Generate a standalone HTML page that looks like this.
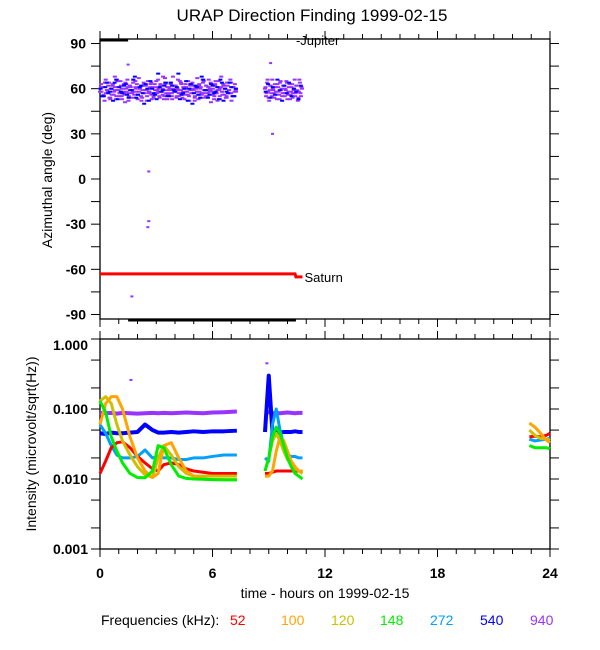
<!DOCTYPE html>
<html><head><meta charset="utf-8"><style>
html,body{margin:0;padding:0;background:#fff;}
svg{display:block;font-family:"Liberation Sans",Arial,sans-serif;}
</style></head><body>
<svg id="chart" width="600" height="650" viewBox="0 0 600 650" xmlns="http://www.w3.org/2000/svg">
<text x="312" y="21" font-size="17" text-anchor="middle">URAP Direction Finding  1999-02-15</text>
<g id="upper"></g>
<g id="lower"></g>
<text transform="translate(52,180) rotate(-90)" font-size="14" text-anchor="middle">Azimuthal angle (deg)</text>
<text transform="translate(36,444) rotate(-90)" font-size="14" text-anchor="middle">Intensity (microvolt/sqrt(Hz))</text>
<text x="325" y="598" font-size="14" text-anchor="middle">time - hours on 1999-02-15</text>
<g font-size="14">
<text x="101" y="625">Frequencies (kHz):</text>
<text x="230" y="625" fill="#ff0000">52</text>
<text x="281" y="625" fill="#ffa500">100</text>
<text x="331" y="625" fill="#ccc000">120</text>
<text x="380" y="625" fill="#00ee00">148</text>
<text x="430" y="625" fill="#00a0ff">272</text>
<text x="480" y="625" fill="#0000ff">540</text>
<text x="530" y="625" fill="#9933ff">940</text>
</g>
</svg>
<script>
// ---------- data ----------
const xTicks=[0,6,12,18,24];
const angleTicks=[90,60,30,0,-30,-60,-90];
const intensityTicks=[1,0.1,0.01,0.001];
const intensityTickLabels=["1.000","0.100","0.010","0.001"];
const freqs=["52","100","120","148","272","540","940"];
const colors=["#ff0000","#ffa500","#ccc000","#00ee00","#00a0ff","#0000ff","#9933ff"];
const purpleSeg1=[58,63,55,61,52,66,59,57,64,54,60,62,56,68,53,59,61,57,65,55,58,63,51,60,66,57,62,54,59,64,56,61,58,53,67,60,55,62,57,63,59,52,65,58,61,56,60,54,63,57,59,66,55,62,58,60,53,64,57,61,56,59,63,55,68,58,62,54,60,57,65,59,56,61,53,63,58,60,55,62,57,64,59,52,61,58,56,63,60,54,66,57,59,62,55,61,58,64,56,60,53,62,57,59,65,55,61,58,63,56,60,54,62,59,57,64,55,61,58,60];
const purpleSeg1b=[61,56,64,58,53,62,59,66,55,60,57,63,52,61,58,65,56,60,54,62,59,57,64,55,61,58,63,56,67,53,60,57,62,59,55,64,58,61,56,63,60,54,58,62,57,65,55,61,59,56,63,52,60,58,62,55,64,57,61,59];
const blueSeg1=[60,55,64,58,52,66,61,57,63,54,59,68,56,62,50,60,65,57,53,61,59,64,55,62,58,70,56,60,52,63,57,61,54,66,59,56,62,58,53,64,60,57,61,55];
const purpleSeg2=[60,55,64,58,52,62,57,66,59,54,61,56,63,58,53,65,60,57,62,55,59,64,56,61,53,58,63,57,60,55,62,59,54,66,57,61];
const blueSeg2=[58,63,54,61,56,66,59,52,62,57,64,55,60,58,53,62];
const outlierT=[2.6,2.6,2.55,1.7,9.2,1.5,9.1];
const outlierA=[5,-28,-32,-78,30,76,77];
const saturnT=[0,10.4,10.45,10.8];
const saturnA=[-63,-63,-65,-65];
const tA=[0,0.3,0.6,0.9,1.2,1.6,2.0,2.4,2.8,3.1,3.4,3.8,4.2,4.6,5.0,5.5,6.0,6.6,7.3];
const tB=[8.8,9.0,9.2,9.4,9.6,9.8,10.0,10.2,10.4,10.6,10.8];
const tC=[22.9,23.2,23.5,23.8,24];
const v52A=[0.012,0.018,0.028,0.033,0.034,0.028,0.021,0.017,0.014,0.013,0.016,0.017,0.016,0.014,0.013,0.0125,0.012,0.012,0.012];
const v52B=[0.012,0.012,0.0125,0.013,0.013,0.013,0.013,0.013,0.013,0.013,0.0125];
const v52C=[0.04,0.041,0.04,0.042,0.045];
const v100A=[0.06,0.12,0.15,0.15,0.1,0.04,0.02,0.013,0.0105,0.012,0.03,0.033,0.02,0.013,0.011,0.01,0.0098,0.0098,0.0098];
const v100B=[0.011,0.011,0.013,0.025,0.04,0.035,0.025,0.018,0.015,0.013,0.013];
const v100C=[0.063,0.055,0.045,0.036,0.033];
const v120A=[0.13,0.15,0.12,0.06,0.035,0.022,0.015,0.0115,0.0105,0.02,0.03,0.022,0.015,0.012,0.011,0.011,0.011,0.011,0.011];
const v120B=[0.013,0.02,0.035,0.045,0.035,0.025,0.019,0.016,0.014,0.013,0.012];
const v120C=[0.05,0.042,0.038,0.037,0.036];
const v148A=[0.13,0.09,0.04,0.025,0.017,0.012,0.0105,0.0104,0.013,0.03,0.028,0.016,0.011,0.0102,0.01,0.0099,0.0098,0.0097,0.0097];
const v148B=[0.013,0.02,0.04,0.055,0.045,0.03,0.02,0.015,0.012,0.011,0.01];
const v148C=[0.03,0.028,0.028,0.028,0.027];
const v272A=[0.06,0.045,0.03,0.022,0.02,0.02,0.021,0.026,0.02,0.021,0.02,0.02,0.019,0.019,0.02,0.02,0.021,0.022,0.022];
const v272B=[0.02,0.018,0.06,0.1,0.05,0.03,0.022,0.021,0.021,0.02,0.02];
const v272C=[0.037,0.035,0.036,0.037,0.038];
const v540A=[0.045,0.044,0.046,0.045,0.045,0.046,0.047,0.06,0.05,0.046,0.046,0.047,0.046,0.047,0.048,0.047,0.048,0.048,0.049];
const v540B=[0.047,0.3,0.045,0.047,0.046,0.047,0.047,0.047,0.048,0.047,0.047];
const v940A=[0.088,0.087,0.088,0.086,0.088,0.087,0.086,0.087,0.088,0.087,0.088,0.087,0.088,0.089,0.088,0.087,0.089,0.09,0.092];
const v940B=[0.088,0.09,0.087,0.088,0.087,0.088,0.089,0.088,0.087,0.088,0.088];
const spikeT=[1.65,8.9];
const spikeV=[0.26,0.45];

// ---------- scales ----------
const X0=100,X1=550;
const U0=39,U1=319;
const L0=339,L1=549;
function xs(t){return X0+(t/24)*(X1-X0);}
function ya(a){return U0+(93-a)/186*(U1-U0);}
function yl(v){return L1-(Math.log10(v)+3)/3*(L1-L0);}
const NS="http://www.w3.org/2000/svg";
function mk(tag,attrs,parent){const e=document.createElementNS(NS,tag);for(const k in attrs)e.setAttribute(k,attrs[k]);parent.appendChild(e);return e;}
const up=document.getElementById('upper'),lo=document.getElementById('lower');

function frame(g,top,bot,name){
  const r=mk('rect',{x:X0,y:top,width:X1-X0,height:bot-top,fill:'none',stroke:'#000','stroke-width':1.3},g);
  
  
  for(let h=0;h<=24;h++){
    const len=(h%6===0)?8:5;
    const t1=mk('line',{x1:xs(h),x2:xs(h),y1:top,y2:top-len,stroke:'#000'},g);
    
    
    const t2=mk('line',{x1:xs(h),x2:xs(h),y1:bot,y2:bot+len,stroke:'#000'},g);
    
    
  }
}
frame(up,U0,U1,'azimuth');
frame(lo,L0,L1,'intensity');

for(let a=-90;a<=90;a+=15){
  const y=ya(a);
  [[X0,X0-9],[X1,X1+9]].forEach(p=>{
    const l=mk('line',{x1:p[0],x2:p[1],y1:y,y2:y,stroke:'#000'},up);
    
    
  });
}
angleTicks.forEach(a=>{
  const t=mk('text',{x:86,y:ya(a)+5,'font-size':14,'font-weight':'bold','text-anchor':'end'},up);
  t.textContent=String(a);
  
  
});
const minorMult=[1,0.5,0.2];
for(let d=0;d>=-3;d--){
  minorMult.forEach(m=>{
    const v=Math.pow(10,d)*m; if(v<0.001||v>1)return;
    const y=yl(v);
    [[X0,X0-9],[X1,X1+9]].forEach(p=>{
      const l=mk('line',{x1:p[0],x2:p[1],y1:y,y2:y,stroke:'#000'},lo);
      
      
    });
  });
}
intensityTicks.forEach((v,i)=>{
  const t=mk('text',{x:88,y:Math.max(yl(v),345)+5,'font-size':14,'font-weight':'bold','text-anchor':'end'},lo);
  t.textContent=intensityTickLabels[i];
  
  
});
xTicks.forEach(h=>{
  const t=mk('text',{x:xs(h),y:578,'font-size':14,'font-weight':'bold','text-anchor':'middle'},lo);
  t.textContent=String(h);
  
  
});

const jl=mk('line',{x1:xs(0),x2:xs(1.5),y1:U0+1,y2:U0+1,stroke:'#000','stroke-width':3},up);


const bl=mk('line',{x1:xs(1.5),x2:xs(10.45),y1:U1+1,y2:U1+1,stroke:'#000','stroke-width':3},up);


const jt=mk('text',{x:xs(10.45),y:U0+6,'font-size':13},up);
jt.textContent='-Jupiter';


const sp=mk('polyline',{points:saturnT.map((t,i)=>xs(t)+','+ya(saturnA[i])).join(' '),fill:'none',stroke:'#ff0000','stroke-width':3},up);


const st=mk('text',{x:xs(10.8)+2,y:ya(-65)+5,'font-size':13},up);
st.textContent='Saturn';



function scatter(vals,t0,t1,color,name,off,rev){
  const n=vals.length;
  vals.forEach((a,j)=>{
    const i=rev?(n-1-j):j;
    const t=t0+(t1-t0)*((i+off)%n)/n;
    const r=mk('rect',{x:xs(t)-2,y:ya(a)-1,width:4,height:2,fill:color},up);
    
    
  });
}
scatter(purpleSeg1,0,7.3,'#9933ff','azimuth-point-940',0,false);
scatter(purpleSeg1b,0,7.3,'#9933ff','azimuth-point-940',0.5,false);
scatter(purpleSeg1,0,7.3,'#9933ff','azimuth-point-940',0.3,true);
scatter(blueSeg1,0,7.3,'#0000ff','azimuth-point-540',0.2,false);
scatter(blueSeg1,0,7.3,'#0000ff','azimuth-point-540',0.7,true);
scatter(purpleSeg2,8.8,10.8,'#9933ff','azimuth-point-940',0,false);
scatter(purpleSeg2,8.8,10.8,'#9933ff','azimuth-point-940',0.5,true);
scatter(blueSeg2,8.8,10.8,'#0000ff','azimuth-point-540',0.3,false);
outlierT.forEach((t,i)=>{
  const r=mk('rect',{x:xs(t)-1.5,y:ya(outlierA[i])-1,width:3,height:2,fill:'#9933ff'},up);
  
  
});

const series=[
 [[tA,v52A],[tB,v52B],[tC,v52C]],
 [[tA,v100A],[tB,v100B],[tC,v100C]],
 [[tA,v120A],[tB,v120B],[tC,v120C]],
 [[tA,v148A],[tB,v148B],[tC,v148C]],
 [[tA,v272A],[tB,v272B],[tC,v272C]],
 [[tA,v540A],[tB,v540B]],
 [[tA,v940A],[tB,v940B]]
];
[6,5,4,0,2,1,3].forEach(k=>{
  series[k].forEach(seg=>{
    const p=mk('polyline',{points:seg[0].map((t,i)=>xs(t)+','+yl(seg[1][i])).join(' '),fill:'none',stroke:colors[k],'stroke-width':k>=5?4:3,'stroke-linejoin':'round'},lo);
    
    
  });
});
spikeT.forEach((t,i)=>{
  const r=mk('rect',{x:xs(t)-1.5,y:yl(spikeV[i])-1,width:3,height:2,fill:'#9933ff'},lo);
  
  
});
</script>
</body></html>
